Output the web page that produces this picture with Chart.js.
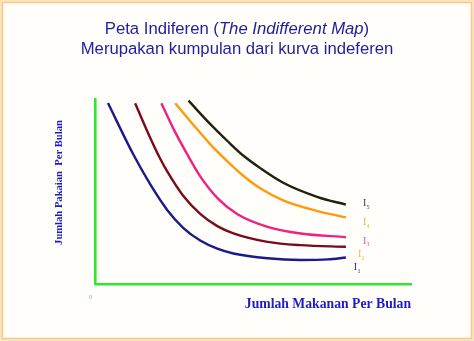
<!DOCTYPE html>
<html>
<head>
<meta charset="utf-8">
<title>Peta Indiferen</title>
<script src="https://cdn.jsdelivr.net/npm/chart.js@4/dist/chart.umd.min.js"></script>
<style>
  html, body { margin: 0; padding: 0; background: #ffffff; }
  #wrap { width: 474px; height: 341px; }
</style>
</head>
<body>
<div id="wrap"><canvas id="c" width="474" height="341"></canvas></div>
<script>
// Quantity of food per month (x) and clothing per month (y) along each indifference curve
const curveNames = ['I1', 'I2', 'I3', 'I4', 'I5'];

const foodI1 = [0.41, 1.21, 1.75, 2.29, 2.79, 3.33, 3.87, 4.38, 5.46, 6.51, 7.37, 7.94];
const clothI1 = [9.78, 7.01, 5.38, 3.99, 3.04, 2.35, 1.91, 1.65, 1.39, 1.30, 1.33, 1.43];

const foodI2 = [1.27, 1.75, 2.06, 2.29, 2.79, 3.33, 3.87, 4.38, 5.46, 6.51, 7.94];
const clothI2 = [9.77, 7.89, 6.78, 6.07, 4.77, 3.79, 3.13, 2.74, 2.28, 2.10, 2.01];

const foodI3 = [2.10, 2.48, 2.92, 3.33, 3.90, 4.51, 5.46, 6.51, 7.94];
const clothI3 = [9.77, 8.40, 7.01, 5.82, 4.60, 3.77, 3.09, 2.73, 2.53];

const foodI4 = [2.54, 3.11, 3.65, 4.19, 4.70, 5.24, 5.97, 7.05, 7.94];
const clothI4 = [9.77, 8.61, 7.55, 6.63, 5.84, 5.16, 4.51, 3.94, 3.60];

const foodI5 = [2.96, 3.65, 4.19, 4.70, 5.24, 5.97, 7.05, 7.94];
const clothI5 = [9.91, 8.64, 7.73, 6.93, 6.25, 5.46, 4.70, 4.29];

const titleLine1 = ['Peta Indiferen (', 'The Indifferent Map', ')'];
const titleLine2 = 'Merupakan kumpulan dari kurva indeferen';
const xTitle = 'Jumlah Makanan Per Bulan';
const yTitle = 'Jumlah Pakaian  Per Bulan';
const originLabel = '0';

const curveColors = ['#1a1a8c', '#7a0a1e', '#f0237c', '#ff9a0a', '#1f2010'];
const labelColors = ['#2a2a90', '#e8c048', '#e0589a', '#e8b450', '#404040'];
// where each curve's name sits, in data units
const labelAnchors = [[8.19, 0.92], [8.32, 1.63], [8.48, 2.36], [8.48, 3.37], [8.48, 4.40]];

const toPoints = (xs, ys) => xs.map((x, i) => ({ x: x, y: ys[i] }));
const series = [
  toPoints(foodI1, clothI1),
  toPoints(foodI2, clothI2),
  toPoints(foodI3, clothI3),
  toPoints(foodI4, clothI4),
  toPoints(foodI5, clothI5)
];

const decorations = {
  id: 'decorations',
  beforeDraw(chart) {
    const ctx = chart.ctx;
    const W = chart.width, H = chart.height;
    ctx.save();
    ctx.fillStyle = '#fde4c0';
    ctx.fillRect(0, 0, W, H);
    ctx.fillStyle = '#fffefa';
    ctx.fillRect(3, 3, W - 6, H - 6);
    ctx.strokeStyle = '#f7c888';
    ctx.lineWidth = 1.5;
    ctx.strokeRect(2.5, 2.5, W - 5, H - 5);
    ctx.restore();
  },
  afterDraw(chart) {
    const ctx = chart.ctx;
    const xs = chart.scales.x, ys = chart.scales.y;
    ctx.save();

    // two-line heading, part of the first line in italics
    ctx.fillStyle = '#1f1f99';
    ctx.textBaseline = 'alphabetic';
    const fs = 16.7;
    const fonts = [
      fs + 'px "Liberation Sans", Arial, sans-serif',
      'italic ' + fs + 'px "Liberation Sans", Arial, sans-serif',
      fs + 'px "Liberation Sans", Arial, sans-serif'
    ];
    const widths = titleLine1.map((t, i) => { ctx.font = fonts[i]; return ctx.measureText(t).width; });
    let x0 = 237 - widths.reduce((a, b) => a + b, 0) / 2;
    ctx.textAlign = 'left';
    titleLine1.forEach((t, i) => { ctx.font = fonts[i]; ctx.fillText(t, x0, 33.5); x0 += widths[i]; });
    ctx.font = fonts[0];
    ctx.textAlign = 'center';
    ctx.fillText(titleLine2, 237, 53.5);

    // axis titles
    ctx.fillStyle = '#1c1cc4';
    ctx.font = 'bold 13.7px "Liberation Serif", "Times New Roman", serif';
    ctx.textAlign = 'right';
    ctx.fillText(xTitle, xs.right, 307.5);

    ctx.save();
    ctx.translate(61.5, 182.5);
    ctx.rotate(-Math.PI / 2);
    ctx.font = 'bold 10.6px "Liberation Serif", "Times New Roman", serif';
    ctx.textAlign = 'center';
    ctx.fillText(yTitle, 0, 0);
    ctx.restore();

    // origin mark
    ctx.fillStyle = '#5cc4c4';
    ctx.font = '7px "Liberation Serif", serif';
    ctx.textAlign = 'center';
    ctx.fillText(originLabel, xs.getPixelForValue(0) - 4.5, ys.getPixelForValue(0) + 15);

    // curve names with subscript indices
    curveNames.forEach((name, i) => {
      const px = xs.getPixelForValue(labelAnchors[i][0]);
      const py = ys.getPixelForValue(labelAnchors[i][1]);
      ctx.fillStyle = labelColors[i];
      ctx.textAlign = 'left';
      ctx.font = '10px "Liberation Serif", serif';
      ctx.fillText(name.charAt(0), px, py + 3.5);
      const w = ctx.measureText(name.charAt(0)).width;
      ctx.font = '6px "Liberation Serif", serif';
      ctx.fillText(name.slice(1), px + w + 0.3, py + 6);
    });

    ctx.restore();
  }
};

new Chart(document.getElementById('c'), {
  type: 'line',
  data: {
    datasets: series.map((pts, i) => ({
      label: curveNames[i],
      data: pts,
      borderColor: curveColors[i],
      borderWidth: 2.4,
      pointRadius: 0,
      fill: false,
      cubicInterpolationMode: 'monotone'
    }))
  },
  options: {
    responsive: false,
    animation: false,
    layout: { padding: { left: 95, right: 63, top: 99, bottom: 57 } },
    plugins: { legend: { display: false }, title: { display: false }, tooltip: { enabled: false } },
    scales: {
      x: {
        type: 'linear', min: 0, max: 10,
        ticks: { display: false },
        grid: { display: false, drawTicks: false },
        border: { display: true, color: '#2ee82e', width: 2.6 },
        afterFit(s) { s.height = 0; }
      },
      y: {
        type: 'linear', min: 0, max: 10,
        ticks: { display: false },
        grid: { display: false, drawTicks: false },
        border: { display: true, color: '#2ee82e', width: 2.6 },
        afterFit(s) { s.width = 0; }
      }
    }
  },
  plugins: [decorations]
});
</script>
</body>
</html>
